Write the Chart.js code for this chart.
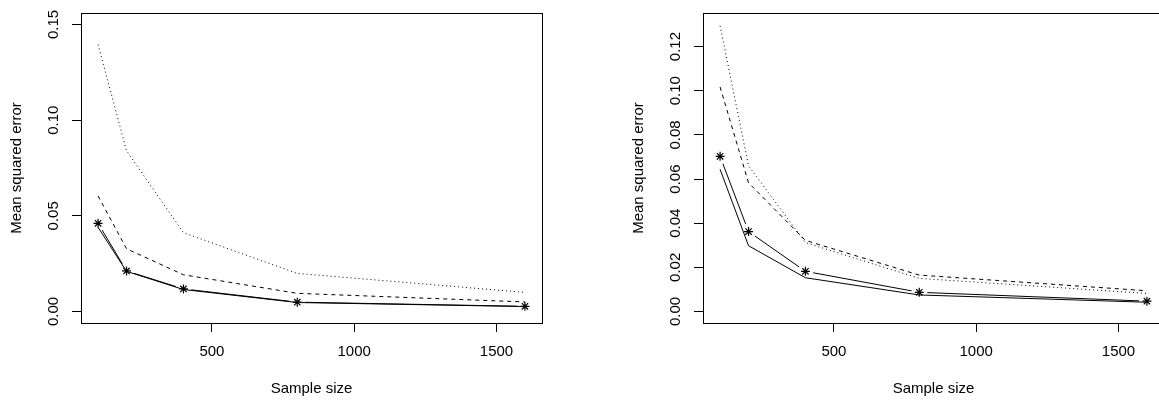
<!DOCTYPE html>
<html><head><meta charset="utf-8">
<script src="https://cdn.jsdelivr.net/npm/chart.js@4"></script>
<style>
html,body{margin:0;padding:0;background:#fff;overflow:hidden;width:1159px;height:401px;}
.p{position:absolute;top:0;width:580px;height:401px;}
canvas{display:block;}
</style></head><body>
<div class="p" style="left:0"><canvas id="c1" width="580" height="401"></canvas></div>
<div class="p" style="left:622px"><canvas id="c2" width="580" height="401"></canvas></div>
<script>
// ---- data ----
const sampleSizes = [100, 200, 400, 800, 1600];
const xTicks = [500, 1000, 1500];

// left panel
const leftStar   = [0.0461, 0.0212, 0.0118, 0.0049, 0.0027];
const leftSolid  = [0.0440, 0.0210, 0.0115, 0.0047, 0.0026];
const leftDashed = [0.0604, 0.0328, 0.0192, 0.0095, 0.0050];
const leftDotted = [0.1395, 0.0840, 0.0412, 0.0199, 0.0100];
const leftYTicks = [0, 0.05, 0.10, 0.15];
const leftYRange = [0, 0.15];

// right panel
const rightStar   = [0.0703, 0.0362, 0.0182, 0.0087, 0.0047];
const rightSolid  = [0.0644, 0.0298, 0.0153, 0.0075, 0.0042];
const rightDashed = [0.1017, 0.0583, 0.0322, 0.0165, 0.0094];
const rightDotted = [0.1294, 0.0660, 0.0312, 0.0150, 0.0082];
const rightYTicks = [0, 0.02, 0.04, 0.06, 0.08, 0.10, 0.12];
const rightYRange = [0, 0.13];

const xRange = [100, 1600];

Chart.defaults.font.family = "'Liberation Sans', Arial, Helvetica, sans-serif";
Chart.defaults.font.size = 15;
Chart.defaults.color = '#000';

const boxPlugin = {
  id: 'box',
  afterDraw(chart) {
    const a = chart.chartArea, ctx = chart.ctx;
    ctx.save();
    ctx.strokeStyle = '#000';
    ctx.lineWidth = 1;
    ctx.strokeRect(Math.round(a.left) + 0.5, Math.round(a.top) + 0.5,
                   Math.round(a.right - a.left), Math.round(a.bottom - a.top));
    ctx.restore();
  }
};

function pts(arr) { return sampleSizes.map((x, i) => ({x: x, y: arr[i]})); }
function pad(r) { const d = (r[1] - r[0]) * 0.04; return [r[0] - d, r[1] + d]; }

function makeChart(id, star, solid, dashed, dotted, yTicks, yRange) {
  const xr = pad(xRange), yr = pad(yRange);
  return new Chart(document.getElementById(id), {
    type: 'line',
    data: {
      datasets: [
        {data: pts(star), borderColor: '#000', borderWidth: 1, pointRadius: 0, order: 5},
        {data: pts(star), showLine: false, pointRadius: 8, pointStyle: 'circle',
         pointBackgroundColor: '#fff', pointBorderWidth: 0, order: 4},
        {data: pts(solid), borderColor: '#000', borderWidth: 1, pointRadius: 0, order: 3},
        {data: pts(dashed), borderColor: '#000', borderWidth: 1, borderDash: [4, 4], pointRadius: 0, order: 3},
        {data: pts(dotted), borderColor: '#000', borderWidth: 1, borderDash: [1, 3], pointRadius: 0, order: 3},
        {data: pts(star), showLine: false, pointStyle: 'star', pointRadius: 4.5,
         pointBorderColor: '#000', pointBorderWidth: 1.2, order: 1}
      ]
    },
    options: {
      responsive: false,
      animation: false,
      devicePixelRatio: 1,
      layout: {padding: {top: 11, right: 38, left: 0, bottom: 0}},
      plugins: {legend: {display: false}, tooltip: {enabled: false}},
      elements: {line: {tension: 0, fill: false}},
      scales: {
        x: {
          type: 'linear', min: xr[0], max: xr[1],
          afterBuildTicks: s => { s.ticks = xTicks.map(v => ({value: v})); },
          afterFit: s => { s.height = 78; },
          ticks: {autoSkip: false, maxRotation: 0, padding: 11, callback: v => String(v),
                  font: {size: 15}},
          grid: {display: true, drawOnChartArea: false, drawTicks: true, tickLength: 9, color: '#000'},
          border: {display: true, color: '#000'},
          title: {display: true, text: 'Sample size', font: {size: 15}, padding: {top: 0, bottom: 3}}
        },
        y: {
          type: 'linear', min: yr[0], max: yr[1],
          afterBuildTicks: s => { s.ticks = yTicks.map(v => ({value: v})); },
          afterFit: s => { s.width = 81; },
          ticks: {autoSkip: false, minRotation: 90, maxRotation: 90, crossAlign: 'center', padding: 4,
                  callback: v => v.toFixed(2), font: {size: 15}},
          grid: {display: true, drawOnChartArea: false, drawTicks: true, tickLength: 9, color: '#000'},
          border: {display: true, color: '#000'},
          title: {display: true, text: 'Mean squared error', font: {size: 15}, padding: {top: 8, bottom: 0}}
        }
      }
    },
    plugins: [boxPlugin]
  });
}

makeChart('c1', leftStar, leftSolid, leftDashed, leftDotted, leftYTicks, leftYRange);
makeChart('c2', rightStar, rightSolid, rightDashed, rightDotted, rightYTicks, rightYRange);
</script>
</body></html>
